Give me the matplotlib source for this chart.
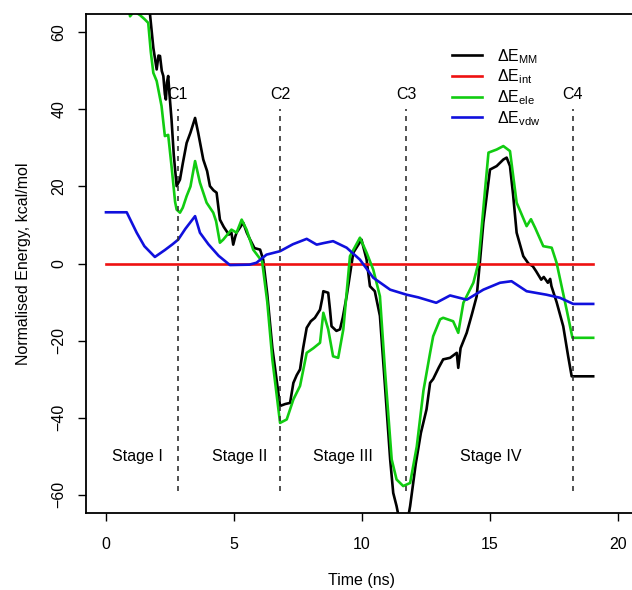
import numpy as np
import matplotlib
matplotlib.use("Agg")
import matplotlib.pyplot as plt

plt.rcParams['font.family'] = ['Liberation Sans', 'DejaVu Sans']
plt.rcParams['mathtext.default'] = 'regular'

# energy traces (time in ns, energy in kcal/mol)
mm_time = [0, 1.6, 1.72, 1.85, 1.98, 2.05, 2.11, 2.18, 2.24, 2.3, 2.34, 2.38, 2.43, 2.48, 2.56,
           2.65, 2.76, 2.89, 3.0, 3.15, 3.3, 3.48, 3.6, 3.8, 3.95, 4.06, 4.2, 4.32, 4.45, 4.6,
           4.71, 4.8, 4.9, 4.97, 5.05, 5.1, 5.2, 5.36, 5.5, 5.63, 5.8, 6.02, 6.14, 6.3, 6.5,
           6.8, 7.0, 7.19, 7.32, 7.45, 7.58, 7.7, 7.84, 8.0, 8.16, 8.36, 8.45, 8.49, 8.68, 8.75,
           8.81, 9.0, 9.14, 9.25, 9.4, 9.66, 9.98, 10.18, 10.31, 10.5, 10.7, 10.9, 11.1, 11.22,
           11.35, 11.5, 11.75, 11.88, 12.1, 12.3, 12.52, 12.66, 12.78, 13.0, 13.17, 13.44, 13.7,
           13.76, 13.85, 14.09, 14.3, 14.48, 14.6, 14.74, 15.0, 15.26, 15.52, 15.65, 15.78, 15.9,
           16.04, 16.3, 16.5, 16.67, 16.8, 17.0, 17.1, 17.26, 17.35, 17.4, 17.6, 17.86, 18.05,
           18.19, 19.03]
mm_vals = [100, 80, 64.7, 56, 50.4, 54, 53.9, 50, 48.7, 44, 42.6, 47, 48.7, 44, 37.4,
           28, 20.1, 21.8, 26, 31.3, 34, 37.8, 34, 27, 24, 20.1, 19, 18.4, 11.4, 9.5,
           8.4, 7.5, 8, 4.9, 7, 8, 9, 10.6, 8, 6.2, 4, 3.6, 1.0, -8, -22,
           -37, -36.5, -36.2, -31, -29, -27.5, -22, -16.7, -15, -14.1, -12, -9, -7.2, -7.6, -12,
           -16.3, -17.5, -17.1, -14, -8.5, 2.8, 6.2, 1.0, -5.9, -7.2, -13.6, -32, -50.9, -59.6,
           -63, -68, -68, -63, -52, -44, -37.9, -31, -30, -27, -24.9, -24.5, -23.2,
           -27.1, -22, -18, -13, -8.5, 0, 10.6, 24.4, 25.3, 27, 27.5, 25.3, 18,
           8, 1.9, 0, -0.7, -2, -4.2, -3.5, -5, -4, -5.9, -10, -16.3, -24,
           -29.3, -29.3]

int_time = [0, 19.03]
int_vals = [0, 0]

ele_time = [0, 0.8, 0.94, 1.1, 1.33, 1.5, 1.65, 1.75, 1.85, 1.98, 2.08, 2.17, 2.3, 2.43, 2.56,
            2.7, 2.76, 2.89, 3.0, 3.15, 3.3, 3.48, 3.67, 3.93, 4.19, 4.3, 4.45, 4.58, 4.9, 5.1,
            5.3, 5.49, 5.75, 6.1, 6.3, 6.5, 6.8, 7.06, 7.32, 7.58, 7.84, 8.1, 8.36, 8.49, 8.68,
            8.87, 9.07, 9.27, 9.53, 9.92, 10.18, 10.44, 10.7, 10.9, 11.16, 11.35, 11.61, 11.88,
            12.14, 12.4, 12.66, 12.78, 13.05, 13.17, 13.56, 13.76, 13.96, 14.35, 14.55, 14.75,
            14.94, 15.26, 15.52, 15.78, 16.04, 16.43, 16.6, 16.76, 17.08, 17.41, 17.6, 17.99,
            18.22, 19.03]
ele_vals = [90, 70, 64.2, 65.5, 64.5, 63.5, 62.5, 55, 49.5, 47.4, 44, 40.9, 33.1, 33.4, 25.3,
            16, 14.0, 13.2, 14.5, 17.5, 20, 26.6, 21, 15.8, 13.2, 11, 5.4, 6.2, 8.8, 8,
            11.4, 8.8, 3.6, 0.5, -10, -25, -41.4, -40.5, -35.3, -31.8, -23.2, -22, -20.6, -12.8, -17.1,
            -24.1, -24.5, -17.1, 1.9, 6.7, 2.8, -1.6, -8.5, -28, -50.9, -56.1, -57.8, -57,
            -47.5, -33, -23.2, -18.9, -14.5, -14.1, -15, -18, -10.2, -5, 0.2, 15,
            28.8, 29.6, 30.5, 29.2, 15.8, 9.7, 11.5, 9.3, 4.5, 4.1, 0.2, -11.9,
            -19.3, -19.3]

vdw_time = [0, 0.81, 1.2, 1.5, 1.91, 2.3, 2.6, 2.82, 3.1, 3.48, 3.67, 4.0, 4.4, 4.84, 5.6,
            5.88, 6.27, 6.8, 7.3, 7.84, 8.23, 8.5, 8.87, 9.4, 9.92, 10.44, 11.1, 11.74, 12.2,
            12.9, 13.44, 14.09, 14.74, 15.39, 15.84, 16.43, 17.2, 17.73, 18.25, 19.03]
vdw_vals = [13.3, 13.3, 8, 4.5, 1.7, 3.5, 5, 6.2, 9, 12.3, 8, 5, 2, -0.4, -0.3,
            0.2, 2.3, 3.2, 5, 6.4, 4.9, 5.3, 5.8, 4.1, 1.0, -3.7, -6.8, -8.1, -8.8,
            -10.2, -8.3, -9.4, -6.8, -5.0, -4.6, -7.2, -8.1, -8.9, -10.5, -10.5]

# conformations / stages
conf_names = ['C1', 'C2', 'C3', 'C4']
conf_times = [2.8, 6.81, 11.72, 18.23]
stage_names = ['Stage I', 'Stage II', 'Stage III', 'Stage IV']
stage_times = [1.21, 5.23, 9.24, 15.04]

fig = plt.figure(figsize=(6.32, 5.90), dpi=100)
W, H = 632, 590
# axes runs past the right edge of the figure (cropped like the original)
ax = fig.add_axes([85.5 / W, 1 - 513 / H, 553 / W, 499 / H])

lw = 1.9
ax.plot(mm_time, mm_vals, color='black', lw=lw, label='ΔE$_{MM}$')
ax.plot(int_time, int_vals, color='#ee1111', lw=lw, label='ΔE$_{int}$')
ax.plot(ele_time, ele_vals, color='#11cc11', lw=lw, label='ΔE$_{ele}$')
ax.plot(vdw_time, vdw_vals, color='#1010dd', lw=lw, label='ΔE$_{vdw}$')

for name, t in zip(conf_names, conf_times):
    ax.plot([t, t], [-59, 40], color='#333333', lw=1.2, ls=(0, (3, 3)))
    ax.text(t, 44, name, ha='center', va='center', fontsize=11.5)

for name, t in zip(stage_names, stage_times):
    ax.text(t, -50, name, ha='center', va='center', fontsize=11.5)

ax.set_xlim(-0.8, 20.8)
ax.set_ylim(-64.8, 64.8)
ax.set_xticks([0, 5, 10, 15, 20])
ax.set_yticks([-60, -40, -20, 0, 20, 40, 60])
ax.tick_params(direction='out', length=5.5, width=1, labelsize=11.5)
ax.tick_params(axis='x', pad=12)
ax.tick_params(axis='y', labelrotation=90, pad=8)
for lab in ax.get_yticklabels():
    lab.set_va('center')
for s in ax.spines.values():
    s.set_linewidth(1.3)

ax.set_xlabel('Time (ns)', fontsize=11.5, labelpad=15)
ax.set_ylabel('Normalised Energy, kcal/mol', fontsize=11.5, labelpad=15)

ax.legend(loc='upper left', bbox_to_anchor=((452 - 85.5) / 553, 1 - 33 / 499),
          frameon=False, fontsize=11.5, handlelength=1.9, handletextpad=0.9,
          labelspacing=0.12, borderpad=0, borderaxespad=0)

fig.savefig('out.png', dpi=100)
